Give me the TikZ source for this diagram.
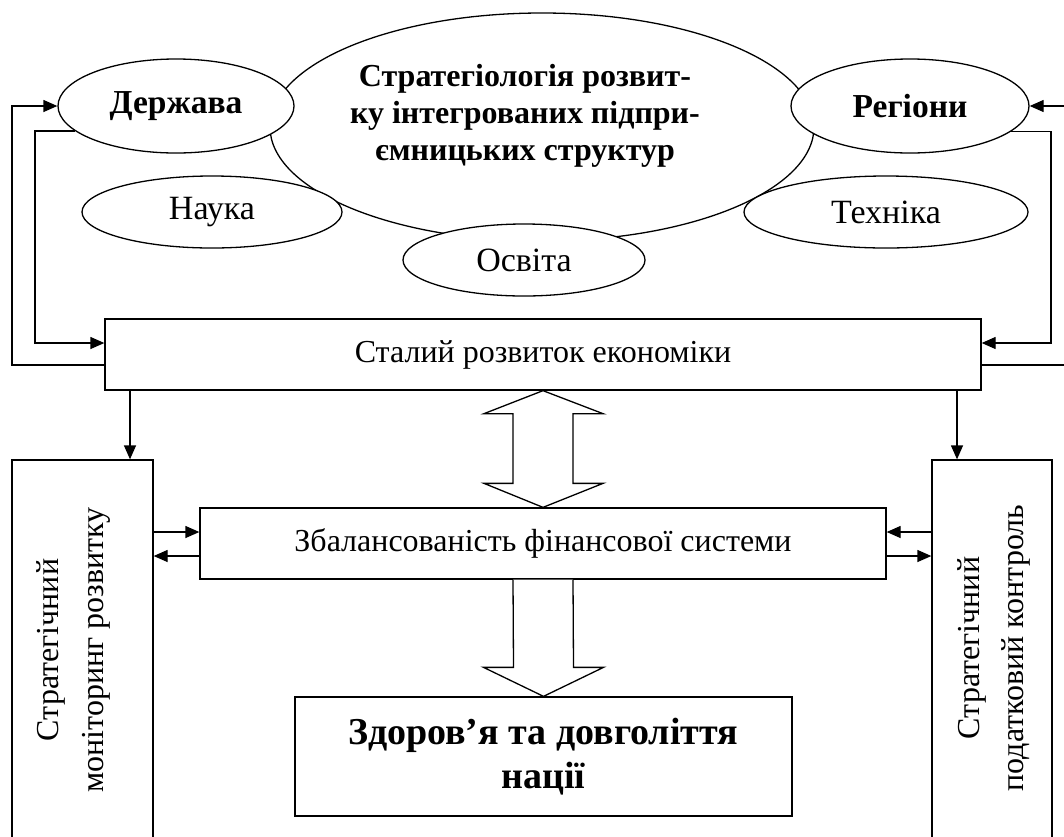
\documentclass[tikz,border=0pt]{standalone}
\usepackage{fontspec}
\setmainfont{Liberation Serif}
\usetikzlibrary{shapes.geometric,arrows.meta,calc}
\begin{document}
\begin{tikzpicture}[x=1pt,y=-1pt,
  line width=1.3pt,
  oval/.style={draw,ellipse,fill=white,inner sep=0pt},
  box/.style={draw,rectangle,inner sep=0pt},
  arr/.style={-{Triangle[length=14pt,width=12pt]}},
  txt/.style={font=\fontsize{32}{37}\selectfont},
  otxt/.style={font=\fontsize{34}{39}\selectfont},
  btxt/.style={font=\fontsize{32}{37}\selectfont\bfseries},
  obtxt/.style={font=\fontsize{33.5}{39}\selectfont\bfseries},
  hollow/.style={draw,fill=white,line join=miter}]
\clip (0,0) rectangle (1064,836);

% central ellipse and its title
\node[oval, minimum width=544, minimum height=228] (core) at (542,127) {};
\node[btxt, align=center] (coreT) at (525,116)
  {Стратегіологія розвит-\\ку інтегрованих підпри-\\ємницьких структур};

% surrounding ellipses
\node[oval, obtxt, minimum width=236, minimum height=94] (dz) at (176,106) {Держава};
\node[oval, obtxt, minimum width=238, minimum height=94] (rg) at (910,106) {Регіони};
\node[oval, otxt, minimum width=260, minimum height=72] (nk) at (212,212) {Наука};
\node[oval, otxt, minimum width=284, minimum height=72] (th) at (886,212) {Техніка};
\node[oval, otxt, minimum width=242, minimum height=72] (os) at (524,260) {Освіта};

% boxes
\node[box, txt, minimum width=876, minimum height=71] (st) at (543,354.5) {Сталий розвиток економіки};
\node[box, txt, minimum width=686, minimum height=71] (zb) at (543,543.5) {Збалансованість фінансової системи};
\node[box, align=center, font=\fontsize{38}{44}\selectfont\bfseries,
      minimum width=497, minimum height=119] (zd) at (543.5,756.5) {Здоров’я та довголіття\\нації};

% tall side boxes with rotated captions
\node[box, minimum width=141, minimum height=420] (lb) at (82.5,670) {};
\node[box, minimum width=120, minimum height=420] (rb) at (992,670) {};
\node[rotate=90, align=center, font=\fontsize{32}{45}\selectfont] (lbT) at (73,650)
  {Стратегічний\\моніторинг розвитку};
\node[rotate=90, align=center, font=\fontsize{32}{44}\selectfont] (rbT) at (994,648)
  {Стратегічний\\податковий контроль};

% feedback loops between the economy box and the top ellipses
\draw[arr] ([yshift=-10.5pt]st.west) -| (12,200) |- (dz.west);
\draw[arr] (dz.194) -| (35,250) |- ([yshift=11.5pt]st.west);
\draw[arr] ([yshift=-10.5pt]st.east) -| (1075,200) |- (rg.east);
\draw[arr] (rg.-14) -| (1051,250) |- ([yshift=11.5pt]st.east);

% arrows down to the side boxes
\coordinate (lbIn) at ([xshift=47.5pt]lb.north);
\coordinate (rbIn) at ([xshift=-35pt]rb.north);
\draw[arr] (st.south -| lbIn) -- (lbIn);
\draw[arr] (st.south -| rbIn) -- (rbIn);

% exchange between side boxes and the financial system box
\coordinate (zbW1) at ([yshift=11.5pt]zb.west);
\coordinate (zbW2) at ([yshift=-12.5pt]zb.west);
\coordinate (zbE1) at ([yshift=11.5pt]zb.east);
\coordinate (zbE2) at ([yshift=-12.5pt]zb.east);
\draw[arr] (lb.east |- zbW1) -- (zbW1);
\draw[arr] (zbW2) -- (lb.east |- zbW2);
\draw[arr] (rb.west |- zbE1) -- (zbE1);
\draw[arr] (zbE2) -- (rb.west |- zbE2);

% hollow double arrow
\draw[hollow] (st.south) -- ($(st.south)+(60,23)$) -- ($(st.south)+(30,23)$)
  -- ($(zb.north)+(30,-24)$) -- ($(zb.north)+(60,-24)$) -- (zb.north)
  -- ($(zb.north)+(-59,-24)$) -- ($(zb.north)+(-30,-24)$)
  -- ($(st.south)+(-30,23)$) -- ($(st.south)+(-59,23)$) -- cycle;

% hollow arrow down to the goal box
\draw[hollow] ($(zb.south)+(-30,0)$) -- ($(zd.north)+(-30,-29)$) -- ($(zd.north)+(-60,-29)$)
  -- (zd.north) -- ($(zd.north)+(60,-29)$) -- ($(zd.north)+(30,-29)$) -- ($(zb.south)+(30,0)$);
\end{tikzpicture}
\end{document}
